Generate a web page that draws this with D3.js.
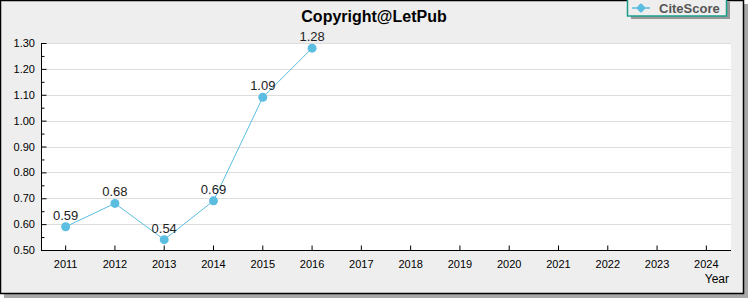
<!DOCTYPE html>
<html>
<head>
<meta charset="utf-8">
<script src="https://cdn.jsdelivr.net/npm/d3@7"></script>
<style>
  body { margin: 0; background: #fff; }
  svg text { font-family: "Liberation Sans", Arial, sans-serif; }
</style>
</head>
<body>
<div id="chart"></div>
<script>
// ── Data ─────────────────────────────────────────────────────────────────
const years = ["2011", "2012", "2013", "2014", "2015", "2016", "2017",
  "2018", "2019", "2020", "2021", "2022", "2023", "2024"];
const citeYears = ["2011", "2012", "2013", "2014", "2015", "2016"];
const citeScore = [0.59, 0.68, 0.54, 0.69, 1.09, 1.28];
const yTicks = [0.5, 0.6, 0.7, 0.8, 0.9, 1.0, 1.1, 1.2, 1.3];

const W = 750, H = 300;
const plot = { left: 41, top: 43, right: 731, bottom: 250 };
const lineColor = "#5bbde0";

const svg = d3.select("#chart").append("svg")
  .attr("width", W).attr("height", H);

// ── Frame with shadow ────────────────────────────────────────────────────
svg.append("rect").attr("x", 4).attr("y", 4).attr("width", 744).attr("height", 294)
  .attr("fill", "#a8a8a8");
svg.append("rect").attr("x", 0.5).attr("y", 0.5).attr("width", 743).attr("height", 293)
  .attr("fill", "#eeeeee").attr("stroke", "#000").attr("stroke-width", 1.5);

svg.append("rect")
  .attr("x", plot.left).attr("y", plot.top)
  .attr("width", plot.right - plot.left).attr("height", plot.bottom - plot.top)
  .attr("fill", "#fff");

// ── Scales ───────────────────────────────────────────────────────────────
const x = d3.scaleBand().domain(years).range([plot.left, plot.right]);
const y = d3.scaleLinear().domain([0.5, 1.3]).range([plot.bottom, plot.top]);
const cx = (d) => x(d) + x.bandwidth() / 2;

// ── Grid ─────────────────────────────────────────────────────────────────
svg.append("g")
  .selectAll("line")
  .data(yTicks.slice(1))
  .join("line")
  .attr("x1", plot.left).attr("x2", plot.right)
  .attr("y1", (d) => Math.round(y(d)) + 0.5).attr("y2", (d) => Math.round(y(d)) + 0.5)
  .attr("stroke", "#dddddd");

// ── Axes ─────────────────────────────────────────────────────────────────
const yAxis = svg.append("g")
  .attr("transform", `translate(${plot.left + 0.5},0)`)
  .call(d3.axisRight(y).tickValues(d3.range(0.5, 1.3001, 0.05)).tickSize(4).tickFormat(""));
yAxis.selectAll(".tick line").attr("x2", (d, i) => (i % 2 ? 3 : 5));
yAxis.select(".domain").attr("d", `M0,${plot.top}V${plot.bottom}`);

svg.append("g")
  .selectAll("text")
  .data(yTicks)
  .join("text")
  .attr("x", plot.left - 6)
  .attr("y", (d) => y(d) + 4)
  .attr("text-anchor", "end")
  .attr("font-size", 11)
  .attr("fill", "#000")
  .text((d) => d.toFixed(2));

const xAxis = svg.append("g")
  .attr("transform", `translate(0,${plot.bottom + 0.5})`)
  .call(d3.axisTop(x).tickSize(5).tickFormat(""));
xAxis.select(".domain").attr("d", `M${plot.left},0H${plot.right}`);

svg.append("g")
  .selectAll("text")
  .data(years)
  .join("text")
  .attr("x", cx)
  .attr("y", plot.bottom + 18)
  .attr("text-anchor", "middle")
  .attr("font-size", 11)
  .attr("fill", "#000")
  .text((d) => d);

svg.append("text")
  .attr("x", 729).attr("y", 283)
  .attr("text-anchor", "end")
  .attr("font-size", 12)
  .attr("fill", "#000")
  .text("Year");

// ── Title ────────────────────────────────────────────────────────────────
svg.append("text")
  .attr("x", 374).attr("y", 22)
  .attr("text-anchor", "middle")
  .attr("font-size", 16).attr("font-weight", "bold")
  .attr("fill", "#000")
  .text("Copyright@LetPub");

// ── Line & markers ───────────────────────────────────────────────────────
const pts = citeYears.map((yr, i) => ({ yr, v: citeScore[i] }));

svg.append("path")
  .datum(pts)
  .attr("fill", "none")
  .attr("stroke", lineColor)
  .attr("stroke-width", 1)
  .attr("d", d3.line().x((d) => cx(d.yr)).y((d) => y(d.v)));

svg.append("g")
  .selectAll("circle")
  .data(pts)
  .join("circle")
  .attr("cx", (d) => cx(d.yr))
  .attr("cy", (d) => y(d.v))
  .attr("r", 4.5)
  .attr("fill", lineColor);

svg.append("g")
  .selectAll("text")
  .data(pts)
  .join("text")
  .attr("x", (d) => cx(d.yr))
  .attr("y", (d) => y(d.v) - 7)
  .attr("text-anchor", "middle")
  .attr("font-size", 13)
  .attr("fill", "#222")
  .text((d) => d.v.toFixed(2));

// ── Legend ───────────────────────────────────────────────────────────────
const lg = svg.append("g");
lg.append("rect").attr("x", 631).attr("y", 2).attr("width", 99).attr("height", 17)
  .attr("fill", "#999");
lg.append("rect").attr("x", 627.5).attr("y", -1).attr("width", 99).attr("height", 17)
  .attr("fill", "#eeeeee").attr("stroke", "#1a9e8c").attr("stroke-width", 1.5);
lg.append("line").attr("x1", 632).attr("x2", 650).attr("y1", 8).attr("y2", 8)
  .attr("stroke", lineColor).attr("stroke-width", 1.5);
lg.append("rect")
  .attr("x", -3.5).attr("y", -3.5).attr("width", 7).attr("height", 7)
  .attr("rx", 1.5)
  .attr("transform", "translate(641,8) rotate(45)")
  .attr("fill", lineColor);
lg.append("text").attr("x", 659).attr("y", 13)
  .attr("font-size", 13).attr("font-weight", "bold")
  .attr("fill", "#555")
  .text("CiteScore");
</script>
</body>
</html>
